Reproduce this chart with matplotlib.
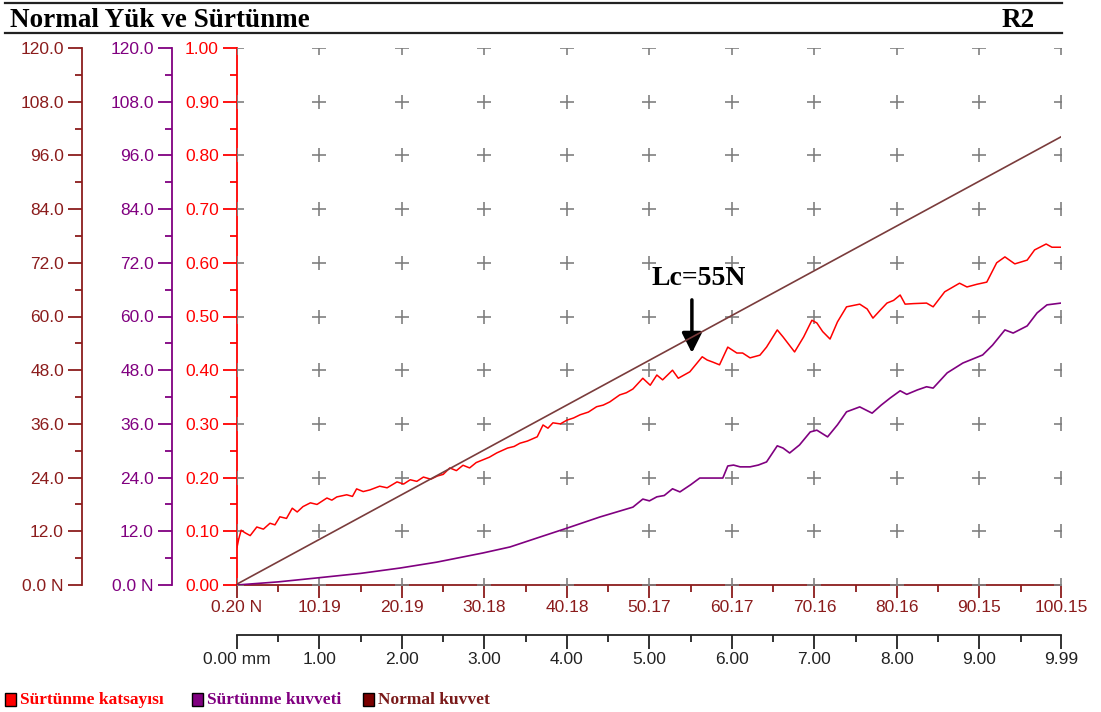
import numpy as np
import matplotlib.pyplot as plt
from matplotlib.lines import Line2D
from matplotlib.patches import Rectangle

plt.rcParams['font.family'] = ['Liberation Sans', 'DejaVu Sans']

# --- data -------------------------------------------------------------
# scratch position (mm) and friction coefficient
coef_mm = [0.00, 0.02, 0.05, 0.10, 0.16, 0.24, 0.32, 0.40, 0.46, 0.52, 0.60, 0.67,
           0.73, 0.80, 0.89, 0.97, 1.09, 1.15, 1.21, 1.33, 1.40, 1.45, 1.53, 1.61,
           1.73, 1.82, 1.94, 2.02, 2.10, 2.18, 2.26, 2.35, 2.43, 2.50, 2.58, 2.66,
           2.74, 2.82, 2.90, 2.98, 3.06, 3.15, 3.28, 3.36, 3.43, 3.52, 3.64, 3.71,
           3.77, 3.83, 3.92, 4.00, 4.08, 4.16, 4.26, 4.36, 4.44, 4.52, 4.64, 4.72,
           4.80, 4.92, 5.01, 5.09, 5.16, 5.28, 5.35, 5.49, 5.64, 5.70, 5.77, 5.85,
           5.95, 6.06, 6.13, 6.22, 6.34, 6.42, 6.55, 6.62, 6.76, 6.87, 6.97, 7.03,
           7.10, 7.19, 7.28, 7.39, 7.55, 7.64, 7.71, 7.80, 7.88, 7.96, 8.04, 8.10,
           8.20, 8.36, 8.44, 8.58, 8.76, 8.85, 8.97, 9.09, 9.21, 9.31, 9.43, 9.58,
           9.67, 9.81, 9.88, 9.99]
coef = [0.070, 0.085, 0.102, 0.097, 0.092, 0.108, 0.104, 0.115, 0.112, 0.127, 0.124, 0.143,
        0.136, 0.146, 0.153, 0.150, 0.162, 0.158, 0.164, 0.168, 0.165, 0.179, 0.174, 0.177,
        0.184, 0.181, 0.192, 0.188, 0.196, 0.193, 0.201, 0.197, 0.203, 0.206, 0.218, 0.213,
        0.223, 0.218, 0.228, 0.233, 0.238, 0.246, 0.255, 0.258, 0.264, 0.268, 0.276, 0.298,
        0.292, 0.302, 0.300, 0.307, 0.311, 0.317, 0.322, 0.332, 0.335, 0.341, 0.354, 0.358,
        0.365, 0.385, 0.372, 0.391, 0.382, 0.400, 0.385, 0.397, 0.425, 0.419, 0.415, 0.410,
        0.443, 0.432, 0.432, 0.423, 0.428, 0.443, 0.475, 0.462, 0.434, 0.462, 0.493, 0.488,
        0.472, 0.458, 0.490, 0.518, 0.523, 0.514, 0.497, 0.512, 0.525, 0.530, 0.540, 0.523,
        0.524, 0.525, 0.518, 0.546, 0.562, 0.555, 0.560, 0.564, 0.600, 0.611, 0.598, 0.605,
        0.624, 0.635, 0.629, 0.629]

# friction force (N)
ff_mm = [0.00, 0.50, 0.98, 1.50, 1.98, 2.42, 2.98, 3.31, 3.67, 4.00, 4.40, 4.80,
         4.92, 5.00, 5.09, 5.18, 5.28, 5.37, 5.50, 5.61, 5.72, 5.82, 5.89, 5.95,
         6.02, 6.10, 6.22, 6.32, 6.42, 6.55, 6.62, 6.70, 6.82, 6.95, 7.03, 7.16,
         7.28, 7.39, 7.55, 7.70, 7.81, 7.92, 8.04, 8.12, 8.25, 8.36, 8.44, 8.61,
         8.80, 9.04, 9.16, 9.31, 9.41, 9.58, 9.70, 9.82, 9.99]
ff = [0.0, 0.7, 1.6, 2.6, 3.8, 5.1, 7.15, 8.5, 10.7, 12.7, 15.2, 17.4,
      19.2, 18.8, 19.7, 20.0, 21.5, 20.8, 22.4, 23.9, 23.9, 23.9, 23.9, 26.6,
      26.8, 26.4, 26.4, 26.8, 27.5, 31.1, 30.6, 29.5, 31.3, 34.2, 34.6, 33.1,
      35.8, 38.7, 39.8, 38.4, 40.2, 41.8, 43.4, 42.6, 43.6, 44.3, 44.0, 47.4,
      49.6, 51.4, 53.6, 57.0, 56.3, 57.9, 60.8, 62.6, 63.0]

# normal load ramp (N)
load_mm = [0.0, 9.99]
load_N = [0.20, 100.15]

x_ticks = [0, 1, 2, 3, 4, 5, 6, 7, 8, 9, 9.99]
load_labels = ['0.20 N', '10.19', '20.19', '30.18', '40.18', '50.17',
               '60.17', '70.16', '80.16', '90.15', '100.15']
mm_labels = ['0.00 mm', '1.00', '2.00', '3.00', '4.00', '5.00',
             '6.00', '7.00', '8.00', '9.00', '9.99']
coef_ticks = [0.0, 0.1, 0.2, 0.3, 0.4, 0.5, 0.6, 0.7, 0.8, 0.9, 1.0]
force_ticks = [0, 12, 24, 36, 48, 60, 72, 84, 96, 108, 120]

RED = '#ff0000'
PURPLE = '#800080'
MAROON = '#8b1c1c'
LOAD_LINE = '#7a3c3c'
GREY = '#808080'

W, H = 1101, 712
fig = plt.figure(figsize=(W / 100, H / 100), dpi=100)


def fx(px):
    return px / W


def fy(py):
    return 1 - py / H


ax = fig.add_axes([fx(237), fy(585), (1061 - 237) / W, (585 - 48) / H])
ax.set_xlim(0, 9.99)
ax.set_ylim(0, 1.0)

for s in ['top', 'right']:
    ax.spines[s].set_visible(False)
ax.spines['left'].set_color(RED)
ax.spines['left'].set_linewidth(1.3)
ax.spines['bottom'].set_color(MAROON)
ax.spines['bottom'].set_linewidth(1.3)

tick_kw = dict(direction='out', width=1.3, labelsize=12.5)
ax.set_yticks(coef_ticks, ['%.2f' % v for v in coef_ticks])
ax.set_yticks(np.arange(0.05, 1.0, 0.1), minor=True)
ax.tick_params(axis='y', which='major', length=10, pad=3, colors=RED, **tick_kw)
ax.tick_params(axis='y', which='minor', length=5, width=1.3, colors=RED)

ax.set_xticks(x_ticks, load_labels)
ax.set_xticks(np.arange(0.5, 9.6, 1.0), minor=True)
ax.tick_params(axis='x', which='major', length=9, pad=2, colors=MAROON, **tick_kw)
ax.tick_params(axis='x', which='minor', length=5, width=1.3, colors=MAROON)

# grey "+" grid marks
gx, gy = np.meshgrid(x_ticks, coef_ticks)
ax.scatter(gx.ravel(), gy.ravel(), marker='+', s=110, color=GREY,
           linewidths=1.2, zorder=3, clip_on=True)

ax.plot(coef_mm, coef, color=RED, lw=1.1, zorder=5, solid_joinstyle='round')

# distance axis under the load axis
sec = ax.secondary_xaxis(-50 / 537)
sec.spines['bottom'].set_color('#222222')
sec.spines['bottom'].set_linewidth(1.3)
sec.set_xticks(x_ticks, mm_labels)
sec.set_xticks(np.arange(0.5, 9.6, 1.0), minor=True)
sec.tick_params(axis='x', which='major', length=10, pad=2, colors='#222222', **tick_kw)
sec.tick_params(axis='x', which='minor', length=5, width=1.3, colors='#222222')


def force_axis(color, offset_px):
    a = ax.twinx()
    a.set_ylim(0, 120)
    a.yaxis.tick_left()
    a.yaxis.set_label_position('left')
    for s in ['top', 'right', 'bottom']:
        a.spines[s].set_visible(False)
    a.spines['left'].set_visible(True)
    a.spines['left'].set_position(('axes', -offset_px / 824))
    a.spines['left'].set_color(color)
    a.spines['left'].set_linewidth(1.3)
    labels = ['%.1f' % v for v in force_ticks]
    labels[0] = '0.0 N'
    a.set_yticks(force_ticks, labels)
    a.set_yticks(np.arange(6, 120, 12), minor=True)
    a.tick_params(axis='y', which='major', length=10, pad=3, colors=color, **tick_kw)
    a.tick_params(axis='y', which='minor', length=5, width=1.3, colors=color)
    return a


ax_ff = force_axis(PURPLE, 65)
ax_ff.plot(ff_mm, ff, color=PURPLE, lw=1.2, zorder=5, solid_joinstyle='round')

ax_load = force_axis(MAROON, 155)
ax_load.plot(load_mm, load_N, color=LOAD_LINE, lw=1.2, zorder=4)

# critical load marker
ax.annotate('', xy=(5.515, 0.432), xytext=(5.515, 0.531),
            arrowprops=dict(arrowstyle='-|>', color='black', lw=2.5,
                            mutation_scale=30, shrinkA=0, shrinkB=0), zorder=6)
ax.text(5.6, 0.570, 'Lc=55N', ha='center', va='center', fontsize=20,
        fontweight='bold', family='Liberation Serif', zorder=6)

# header
fig.add_artist(Line2D([fx(5), fx(1062)], [fy(3), fy(3)], color='#222222', lw=1.6))
fig.add_artist(Line2D([fx(5), fx(1062)], [fy(33), fy(33)], color='#222222', lw=1.6))
fig.text(fx(10), fy(27), 'Normal Yük ve Sürtünme', fontsize=19.5, fontweight='bold',
         family='Liberation Serif', va='baseline', ha='left')
fig.text(fx(1035), fy(27), 'R2', fontsize=19.5, fontweight='bold',
         family='Liberation Serif', va='baseline', ha='right')

# legend
legend_items = [(5, 'Sürtünme katsayısı', RED, RED),
                (192, 'Sürtünme kuvveti', PURPLE, PURPLE),
                (363, 'Normal kuvvet', '#7a0000', '#7a1a1a')]
for x0, label, fill, tcol in legend_items:
    fig.add_artist(Rectangle((fx(x0), fy(706)), 11 / W, 13 / H, facecolor=fill,
                             edgecolor='black', lw=1.0, transform=fig.transFigure))
    fig.text(fx(x0 + 15), fy(704), label, color=tcol, fontsize=12.5, fontweight='bold',
             family='Liberation Serif', va='baseline', ha='left')

fig.savefig('out.png', dpi=100)
